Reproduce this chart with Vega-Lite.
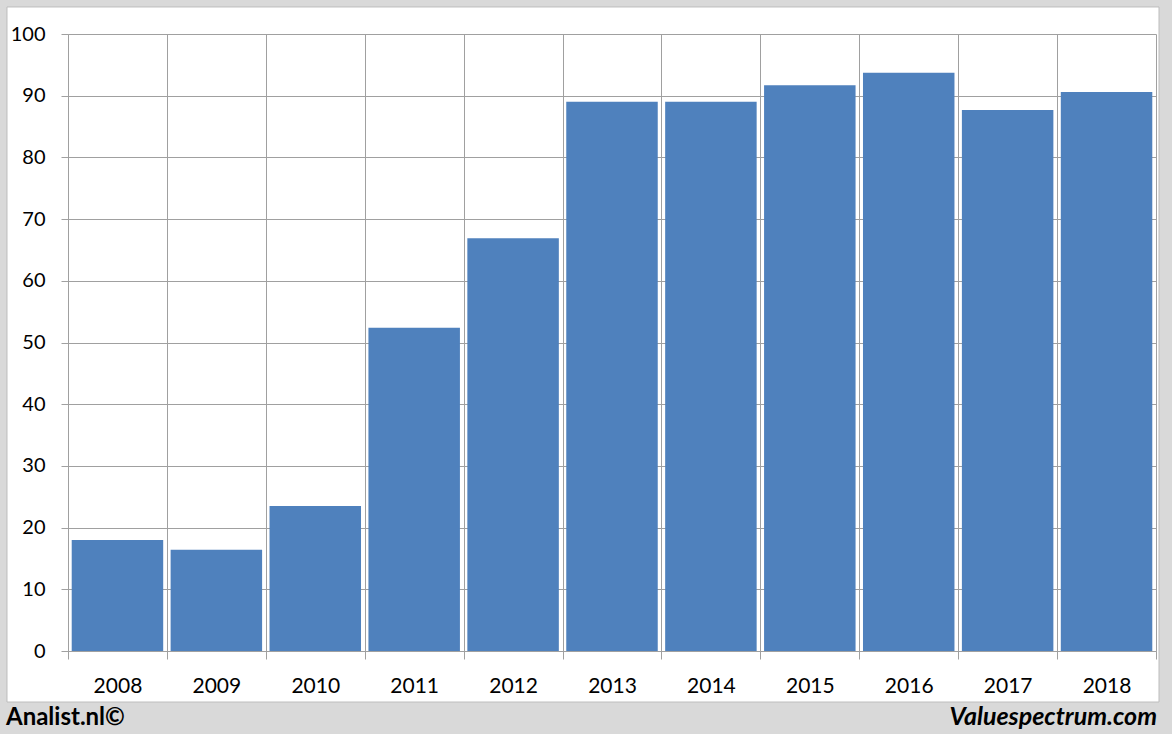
{
  "$schema": "https://vega.github.io/schema/vega-lite/v6.json",
  "width": 1088,
  "height": 617,
  "autosize": {"type": "none"},
  "padding": {"left": 68, "top": 34, "right": 16, "bottom": 83},
  "background": "white",
  "config": {"view": {"stroke": null}, "font": "Lato"},
  "resolve": {"scale": {"x": "independent"}},
  "layer": [
    {
      "data": {"values": [
        {"year": "2008", "value": 18.0},
        {"year": "2009", "value": 16.4},
        {"year": "2010", "value": 23.5},
        {"year": "2011", "value": 52.4},
        {"year": "2012", "value": 66.9},
        {"year": "2013", "value": 89.0},
        {"year": "2014", "value": 89.0},
        {"year": "2015", "value": 91.7},
        {"year": "2016", "value": 93.7},
        {"year": "2017", "value": 87.7},
        {"year": "2018", "value": 90.6}
      ]},
      "mark": {"type": "bar", "color": "#4f81bd", "width": {"band": 0.925}},
      "encoding": {
        "x": {
          "field": "year", "type": "ordinal",
          "scale": {"paddingInner": 0, "paddingOuter": 0},
          "axis": {
            "title": null, "labelAngle": 0, "tickBand": "extent", "grid": true,
            "gridColor": "#a0a0a0", "domainColor": "#a0a0a0", "tickColor": "#a0a0a0",
            "tickSize": 8, "labelPadding": 16, "labelFontSize": 21, "labelFont": "Lato",
            "labelColor": "#000000"
          }
        },
        "y": {
          "field": "value", "type": "quantitative",
          "scale": {"domain": [0, 100], "nice": false},
          "axis": {
            "title": null, "values": [0, 10, 20, 30, 40, 50, 60, 70, 80, 90, 100],
            "grid": true, "gridColor": "#a0a0a0", "domainColor": "#a0a0a0", "tickColor": "#a0a0a0",
            "tickSize": 7, "labelPadding": 16, "labelFontSize": 20, "labelFont": "Lato",
            "labelColor": "#000000"
          }
        }
      }
    },
    {
      "data": {"values": [{}]},
      "mark": {"type": "rect", "color": "#d9d9d9"},
      "encoding": {
        "x": {"datum": -0.08, "type": "quantitative", "scale": {"domain": [0, 1], "nice": false, "zero": false}, "axis": null},
        "x2": {"datum": 1.03},
        "y": {"datum": -8.27, "type": "quantitative", "scale": {"domain": [0, 100], "nice": false}},
        "y2": {"datum": -16}
      }
    },
    {
      "data": {"values": [{}]},
      "mark": {"type": "rect", "color": "#d9d9d9"},
      "encoding": {
        "x": {"datum": -0.08, "type": "quantitative", "scale": {"domain": [0, 1], "nice": false, "zero": false}, "axis": null},
        "x2": {"datum": 1.03},
        "y": {"datum": 104.38, "type": "quantitative", "scale": {"domain": [0, 100], "nice": false}},
        "y2": {"datum": 107}
      }
    },
    {
      "data": {"values": [{}]},
      "mark": {"type": "rect", "color": "#d9d9d9"},
      "encoding": {
        "x": {"datum": -0.08, "type": "quantitative", "scale": {"domain": [0, 1], "nice": false, "zero": false}, "axis": null},
        "x2": {"datum": -0.05607},
        "y": {"datum": -16, "type": "quantitative", "scale": {"domain": [0, 100], "nice": false}},
        "y2": {"datum": 107}
      }
    },
    {
      "data": {"values": [{}]},
      "mark": {"type": "rect", "color": "#d9d9d9"},
      "encoding": {
        "x": {"datum": 1.00276, "type": "quantitative", "scale": {"domain": [0, 1], "nice": false, "zero": false}, "axis": null},
        "x2": {"datum": 1.03},
        "y": {"datum": -16, "type": "quantitative", "scale": {"domain": [0, 100], "nice": false}},
        "y2": {"datum": 107}
      }
    },
    {
      "data": {"values": [{}]},
      "mark": {"type": "rect", "filled": false, "stroke": "#bdbdbd", "strokeWidth": 1},
      "encoding": {
        "x": {"datum": -0.05607, "type": "quantitative", "scale": {"domain": [0, 1], "nice": false, "zero": false}, "axis": null},
        "x2": {"datum": 1.00276},
        "y": {"datum": -8.27, "type": "quantitative", "scale": {"domain": [0, 100], "nice": false}},
        "y2": {"datum": 104.38}
      }
    },
    {
      "data": {"values": [{}]},
      "mark": {"type": "text", "text": "Analist.nl©", "font": "Lato", "fontSize": 24, "fontWeight": "bold", "align": "left", "baseline": "alphabetic", "color": "#000000"},
      "encoding": {
        "x": {"datum": -0.057, "type": "quantitative", "scale": {"domain": [0, 1], "nice": false, "zero": false}, "axis": null},
        "y": {"datum": -12, "type": "quantitative", "scale": {"domain": [0, 100], "nice": false}}
      }
    },
    {
      "data": {"values": [{}]},
      "mark": {"type": "text", "text": "Valuespectrum.com", "font": "Lato", "fontSize": 25, "fontWeight": "bold", "fontStyle": "italic", "align": "right", "baseline": "alphabetic", "color": "#000000"},
      "encoding": {
        "x": {"datum": 1.0009, "type": "quantitative", "scale": {"domain": [0, 1], "nice": false, "zero": false}, "axis": null},
        "y": {"datum": -12, "type": "quantitative", "scale": {"domain": [0, 100], "nice": false}}
      }
    }
  ]
}
